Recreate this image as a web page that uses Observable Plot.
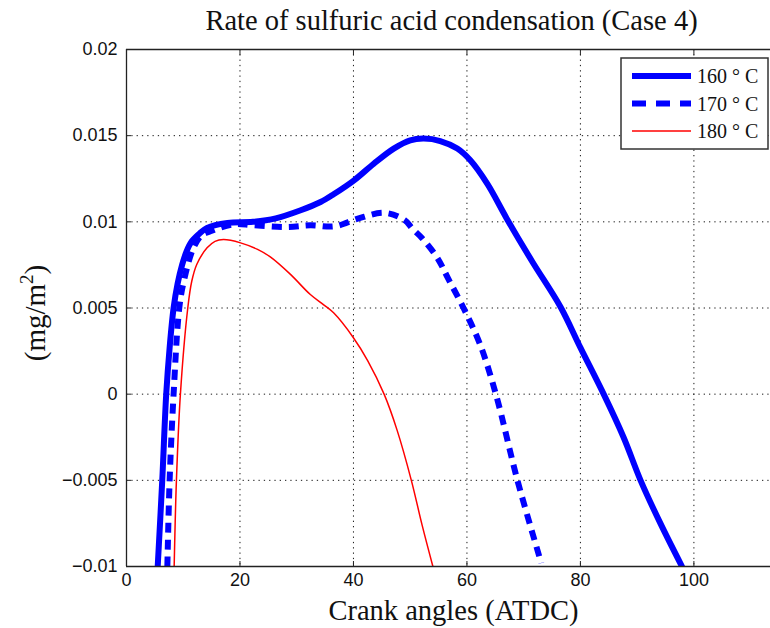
<!DOCTYPE html>
<html>
<head>
<meta charset="utf-8">
<script src="https://cdn.jsdelivr.net/npm/d3@7"></script>
<script src="https://cdn.jsdelivr.net/npm/@observablehq/plot@0.6"></script>
<style>
  html, body { margin: 0; padding: 0; background: #fff; }
  #wrap { position: relative; width: 770px; height: 628px; overflow: hidden; }
  #legend { position: absolute; left: 0; top: 0; }
</style>
</head>
<body>
<div id="wrap"></div>
<script>
// ---- data ----
const titleText = "Rate of sulfuric acid condensation (Case 4)";
const xLabel = "Crank angles (ATDC)";
const seriesNames = ["160 ° C", "170 ° C", "180 ° C"];

const x160 = [5.5, 6.3, 7.0, 7.6, 8.3, 9.0, 9.8, 10.6, 11.5, 12.8, 14.2, 17.8, 22.3, 26.3, 30.7, 34.2, 36.5, 40.1, 43.6, 47.1, 50, 52.4, 55.3, 58.3, 60.6, 63.6, 67, 71.5, 76.5, 80, 84.1, 87.6, 90.6, 94.1, 97.9];
const y160 = [-0.01, -0.005, 0, 0.0027, 0.005, 0.0064, 0.0075, 0.0083, 0.00887, 0.0093, 0.00965, 0.00994, 0.0100, 0.0102, 0.01067, 0.01115, 0.0116, 0.01241, 0.01338, 0.01425, 0.01473, 0.01483, 0.01469, 0.01425, 0.01357, 0.0122, 0.0102, 0.0077, 0.00506, 0.0027, 0, -0.0025, -0.005, -0.0075, -0.01];

const x170 = [7.2, 7.6, 8.3, 9.3, 10.1, 11.8, 13.2, 14.8, 18.9, 22.3, 28.3, 32.4, 36.7, 40.9, 45.5, 49, 50.4, 52.1, 54.8, 56.7, 59.4, 62.3, 65.1, 68.9, 73.1];
const y170 = [-0.01, -0.005, 0, 0.005, 0.00655, 0.00849, 0.0092, 0.00945, 0.00986, 0.0098, 0.0097, 0.0098, 0.00974, 0.0102, 0.01052, 0.0101, 0.0096, 0.00905, 0.0079, 0.0067, 0.005, 0.0029, 0, -0.005, -0.0098];

const x180 = [8.4, 8.8, 9.5, 10.8, 11.5, 12.4, 14.2, 15.6, 17.1, 20.1, 23.1, 25.4, 28.9, 32.4, 34.7, 36.5, 39.9, 42.5, 45.4, 47.7, 50.2, 52.1, 54.0];
const y180 = [-0.01, -0.005, 0, 0.005, 0.00655, 0.00754, 0.00849, 0.00887, 0.00897, 0.00878, 0.0084, 0.00795, 0.00695, 0.00578, 0.0052, 0.00472, 0.00332, 0.00195, 0, -0.0021, -0.005, -0.0076, -0.01];

const xTicks = [0, 20, 40, 60, 80, 100];
const yTicks = [-0.01, -0.005, 0, 0.005, 0.01, 0.015, 0.02];
const xDomain = [0, 113.5];
const yDomain = [-0.01, 0.02];

// ---- build ----
const toRows = (xs, ys) => xs.map((x, i) => ({x, y: ys[i]}));
const d160 = toRows(x160, y160);
const d170 = toRows(x170, y170);
const d180 = toRows(x180, y180);

const fmtY = d => d === 0 ? "0" : (d < 0 ? "\u2212" + String(-d) : String(d));
const sans = "Liberation Sans, Arial, sans-serif";
const serif = "Liberation Serif, Times New Roman, serif";
const grid = {stroke: "#000", strokeWidth: 1, strokeDasharray: "1.3,4", strokeOpacity: 0.9};

const chart = Plot.plot({
  width: 770,
  height: 628,
  marginLeft: 126,
  marginRight: 0,
  marginTop: 49,
  marginBottom: 62,
  style: {fontFamily: sans, background: "#fff", overflow: "visible"},
  x: {domain: xDomain, ticks: xTicks},
  y: {domain: yDomain, ticks: yTicks},
  marks: [
    Plot.gridX(xTicks, grid),
    Plot.gridY(yTicks, grid),
    Plot.line(d180, {x: "x", y: "y", stroke: "#ff0000", strokeWidth: 1.5, curve: "catmull-rom", clip: true}),
    Plot.line(d170, {x: "x", y: "y", stroke: "#0000ff", strokeWidth: 6, strokeDasharray: "10,7", strokeLinecap: "butt", curve: "catmull-rom", clip: true}),
    Plot.line(d160, {x: "x", y: "y", stroke: "#0000ff", strokeWidth: 6, curve: "catmull-rom", clip: true}),
    Plot.ruleY([yDomain[0], yDomain[1]], {stroke: "#222", strokeWidth: 1.3}),
    Plot.ruleX([xDomain[0]], {stroke: "#222", strokeWidth: 1.3}),
    Plot.axisX(xTicks, {anchor: "bottom", tickSize: -5, tickPadding: 12, fontSize: 18, tickFormat: d => String(d), label: null, stroke: "#222", fill: "#111"}),
    Plot.axisX(xTicks, {anchor: "top", tickSize: -5, tickFormat: () => "", label: null, stroke: "#222"}),
    Plot.axisY(yTicks, {anchor: "left", tickSize: -5, tickPadding: 14, fontSize: 18, tickFormat: fmtY, label: null, stroke: "#222", fill: "#111"}),
    Plot.text([titleText], {frameAnchor: "top", lineAnchor: "middle", dx: 3, dy: -29, fontSize: 28.5, fontFamily: serif, fill: "#111", text: d => d}),
    Plot.text([xLabel], {frameAnchor: "bottom", lineAnchor: "middle", dx: 5, dy: 44, fontSize: 28.5, fontFamily: serif, fill: "#111", text: d => d})
  ]
});

const wrap = document.getElementById("wrap");
wrap.appendChild(chart);

// y label (rotated) and legend as an overlay svg
const ns = "http://www.w3.org/2000/svg";
const ov = document.createElementNS(ns, "svg");
ov.setAttribute("id", "legend");
ov.setAttribute("width", 770);
ov.setAttribute("height", 628);
wrap.appendChild(ov);

const yl = document.createElementNS(ns, "text");
yl.setAttribute("transform", "translate(45,313) rotate(-90)");
yl.setAttribute("text-anchor", "middle");
yl.setAttribute("font-family", serif);
yl.setAttribute("font-size", 29);
yl.setAttribute("fill", "#111");
yl.innerHTML = '(mg/m<tspan dy="-12" font-size="19">2</tspan><tspan dy="12">)</tspan>';
ov.appendChild(yl);

const box = document.createElementNS(ns, "rect");
box.setAttribute("x", 621); box.setAttribute("y", 58);
box.setAttribute("width", 147); box.setAttribute("height", 91);
box.setAttribute("fill", "#fff"); box.setAttribute("stroke", "#333"); box.setAttribute("stroke-width", 1.5);
ov.appendChild(box);

const legendStyles = [
  {stroke: "#0000ff", width: 6, dash: null},
  {stroke: "#0000ff", width: 6, dash: "14,10"},
  {stroke: "#ff0000", width: 1.5, dash: null}
];
seriesNames.forEach((name, i) => {
  const y = 76 + i * 27.5;
  const l = document.createElementNS(ns, "line");
  l.setAttribute("x1", 632); l.setAttribute("x2", 691);
  l.setAttribute("y1", y); l.setAttribute("y2", y);
  l.setAttribute("stroke", legendStyles[i].stroke);
  l.setAttribute("stroke-width", legendStyles[i].width);
  if (legendStyles[i].dash) l.setAttribute("stroke-dasharray", legendStyles[i].dash);
  ov.appendChild(l);
  const t = document.createElementNS(ns, "text");
  t.setAttribute("x", 697); t.setAttribute("y", y + 7);
  t.setAttribute("font-family", serif);
  t.setAttribute("font-size", 20);
  t.setAttribute("fill", "#111");
  t.textContent = name;
  ov.appendChild(t);
});
</script>
</body>
</html>
